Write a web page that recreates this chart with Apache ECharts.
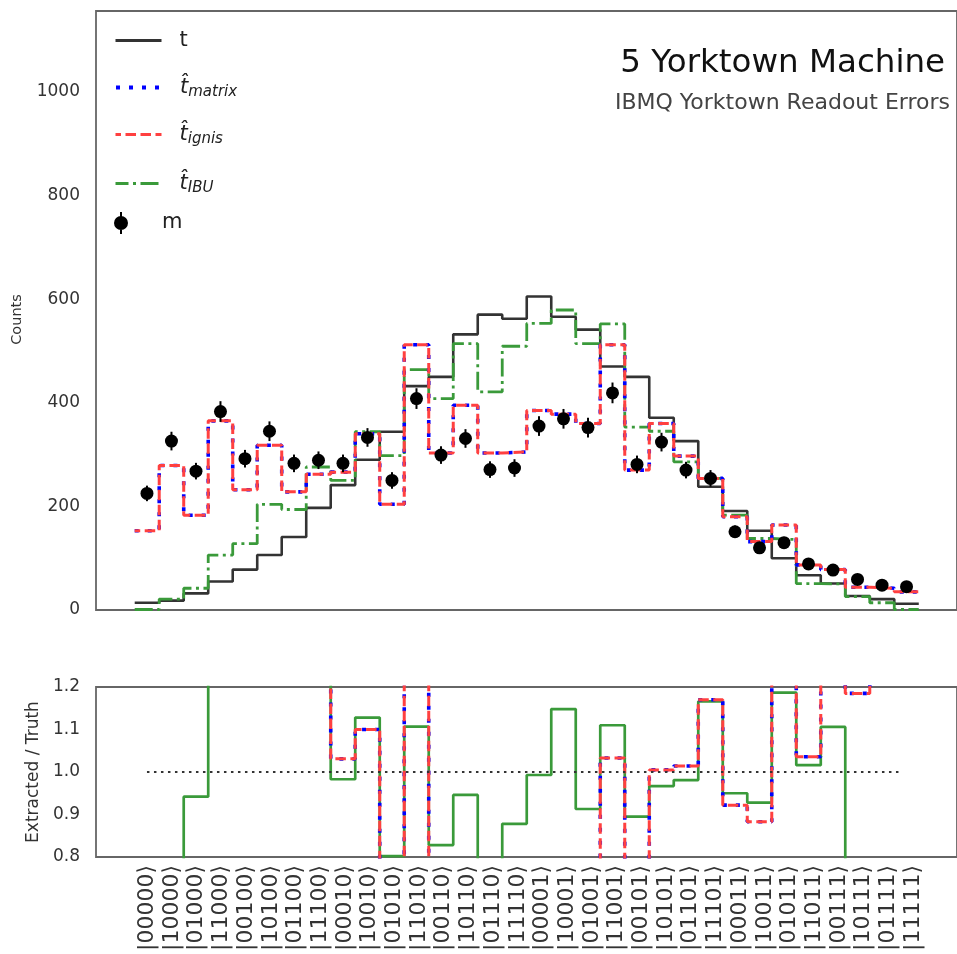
<!DOCTYPE html>
<html><head><meta charset="utf-8">
<script src="https://cdn.jsdelivr.net/npm/echarts@6/dist/echarts.min.js"></script>
<style>html,body{margin:0;padding:0;background:#fff}#c{width:957px;height:954px}</style>
</head><body><div id="c"></div><script>
// ---------------- data ----------------
const categories = ['|00000⟩','|10000⟩','|01000⟩','|11000⟩','|00100⟩','|10100⟩','|01100⟩','|11100⟩',
  '|00010⟩','|10010⟩','|01010⟩','|11010⟩','|00110⟩','|10110⟩','|01110⟩','|11110⟩',
  '|00001⟩','|10001⟩','|01001⟩','|11001⟩','|00101⟩','|10101⟩','|01101⟩','|11101⟩',
  '|00011⟩','|10011⟩','|01011⟩','|11011⟩','|00111⟩','|10111⟩','|01111⟩','|11111⟩'];
const truth   = [14,18,32,55,78,106,141,197,241,290,344,432,450,532,570,562,605,566,541,470,450,371,326,238,191,153,100,67,51,27,21,12];
const tMatrix = [153,279,183,365,232,318,228,262,266,340,204,512,303,395,303,305,385,378,360,512,270,360,297,254,180,132,164,87,78,44,42,35];
const tIgnis  = [153,279,183,365,232,318,228,262,266,340,204,512,303,395,303,305,385,378,360,512,270,360,297,254,180,132,164,87,78,44,42,35];
const tIBU    = [1,21,42,106,128,204,194,276,250,344,298,464,408,514,421,509,553,579,514,552,353,345,286,254,183,138,136,51,50,26,14,1];
const measured    = [225,326,268,383,292,345,283,289,283,333,250,408,299,331,271,274,355,369,352,419,281,324,270,254,151,120,130,89,77,59,48,45];
const measuredErr = [15,18,16,20,17,19,17,17,17,18,16,20,17,18,16,17,19,19,19,20,17,18,16,16,12,11,11,9,9,8,7,7];
const ratioMatrix = [10.9,15.5,5.7,6.6,3.0,3.0,1.6,1.33,1.031,1.10,0.59,1.35,0.67,0.74,0.53,0.54,0.64,0.67,0.67,1.033,0.6,1.005,1.014,1.17,0.922,0.883,1.64,1.036,1.5,1.185,2.0,2.9];
const ratioIgnis  = [10.9,15.5,5.7,6.6,3.0,3.0,1.6,1.33,1.031,1.10,0.59,1.35,0.67,0.74,0.53,0.54,0.64,0.67,0.67,1.033,0.6,1.005,1.014,1.17,0.922,0.883,1.64,1.036,1.5,1.185,2.0,2.9];
const ratioIBU    = [0.07,0.5,0.942,1.9,1.6,1.9,1.4,1.4,0.983,1.128,0.802,1.107,0.828,0.946,0.74,0.878,0.993,1.148,0.913,1.11,0.895,0.967,0.981,1.166,0.95,0.928,1.187,1.016,1.106,0.7,0.67,0.1];
const ratioRef = 1.0;

// ---------------- helpers ----------------
function stepPts(vals){ const out=[]; vals.forEach((v,i)=>{ out.push([i,v]); out.push([i+1,v]); }); return out; }
const FONT = 'DejaVu Sans';
const N = categories.length;
const XMIN = -1.58, XMAX = N + 1.56;
const cBlack='#333', cBlue='#0000ff', cRed='#ff4040', cGreen='#3a9a3a';
const dotted=[4,9], dashed=[10.5,4.5], dashdot=[18,4.5,3,4.5];

const legendDefs = [
  {name:'t', y:42}, {name:'matrix', y:89}, {name:'ignis', y:136}, {name:'IBU', y:185}, {name:'m', y:224}
];
const mIcon = 'path://M9,0h2v22h-2zM3,11a7,7 0 1,1 14,0a7,7 0 1,1 -14,0z';
const legends = legendDefs.map(d => ({
  data: [d.name === 'm' ? {name:'m', icon:mIcon} : d.name],
  left: 114, top: d.y - 12, orient:'vertical', padding:0,
  itemWidth: 46, itemHeight: d.name==='m' ? 22 : 14, selectedMode:false,
  itemStyle: d.name==='m' ? {color:'#000', opacity:1} : {opacity:0},
  lineStyle: {width: d.name==='matrix' ? 4 : 3},
  formatter: n => (n==='t' || n==='m') ? '{a|'+n+'}' : '{h|t\u0302}{s|'+n+'}',
  textStyle: {fontFamily:FONT, fontSize:20, color:'#222', padding:[0,0,0,13],
    rich: {
      a:{fontFamily:FONT, fontSize:21, lineHeight:24, color:'#222'},
      h:{fontFamily:FONT, fontSize:21, lineHeight:24, fontStyle:'italic', color:'#222'},
      s:{fontFamily:FONT, fontSize:15, lineHeight:20, fontStyle:'italic', color:'#222', verticalAlign:'bottom'}
    }}
}));

const chart = echarts.init(document.getElementById('c'), null, {renderer:'canvas'});
const frame = {show:true, borderColor:'#666', borderWidth:1.8, backgroundColor:'transparent'};
chart.setOption({
  animation:false,
  backgroundColor:'#fff',
  title:[
    {text:'5 Yorktown Machine', right:12, top:46, padding:0,
     textStyle:{fontFamily:FONT, fontSize:32.5, fontWeight:'normal', color:'#111', lineHeight:36}},
    {text:'IBMQ Yorktown Readout Errors', right:7, top:91, padding:0,
     textStyle:{fontFamily:FONT, fontSize:22, fontWeight:'normal', color:'#444', lineHeight:24}}
  ],
  legend: legends,
  grid:[
    Object.assign({left:96, top:11, width:868, height:599}, frame),
    Object.assign({left:96, top:687, width:868, height:170}, frame),
    {left:135, top:687, width:790.4, height:170, show:false}
  ],
  xAxis:[
    {gridIndex:0, type:'value', min:XMIN, max:XMAX, show:false},
    {gridIndex:1, type:'value', min:XMIN, max:XMAX, show:false},
    {gridIndex:2, type:'category', data:categories, boundaryGap:true,
     axisLine:{show:false}, axisTick:{show:false}, splitLine:{show:false},
     axisLabel:{rotate:90, interval:0, margin:19, fontFamily:FONT, fontSize:22, color:'#333'}}
  ],
  yAxis:[
    {gridIndex:0, type:'value', min:0, max:1156, interval:200,
     axisLine:{show:false}, axisTick:{show:false}, splitLine:{show:false},
     axisLabel:{showMaxLabel:false, margin:16, fontFamily:FONT, fontSize:17, color:'#333', formatter:v=>String(v)},
     name:'Counts', nameLocation:'middle', nameGap:71,
     nameTextStyle:{fontFamily:FONT, fontSize:14.5, color:'#333', padding:[0,18,0,0]}},
    {gridIndex:1, type:'value', min:0.8, max:1.2, interval:0.1,
     axisLine:{show:false}, axisTick:{show:false}, splitLine:{show:false},
     axisLabel:{margin:16, fontFamily:FONT, fontSize:17, color:'#333', formatter:v=>v.toFixed(1)},
     name:'Extracted / Truth', nameLocation:'middle', nameGap:54,
     nameTextStyle:{fontFamily:FONT, fontSize:17, color:'#333'}},
    {gridIndex:2, type:'value', show:false}
  ],
  series:[
    {name:'t', type:'line', xAxisIndex:0, yAxisIndex:0, data:stepPts(truth), symbol:'none',
     lineStyle:{color:cBlack, width:2.6}, itemStyle:{color:cBlack}, z:3},
    {name:'IBU', type:'line', xAxisIndex:0, yAxisIndex:0, data:stepPts(tIBU), symbol:'none',
     lineStyle:{color:cGreen, width:2.8, type:dashdot}, itemStyle:{color:cGreen}, z:4},
    {name:'matrix', type:'line', xAxisIndex:0, yAxisIndex:0, data:stepPts(tMatrix), symbol:'none',
     lineStyle:{color:cBlue, width:3.6, type:dotted}, itemStyle:{color:cBlue}, z:5},
    {name:'ignis', type:'line', xAxisIndex:0, yAxisIndex:0, data:stepPts(tIgnis), symbol:'none',
     lineStyle:{color:cRed, width:3, type:dashed, dashOffset:5}, itemStyle:{color:cRed}, z:6},
    {name:'m', type:'scatter', xAxisIndex:0, yAxisIndex:0, data:measured.map((v,i)=>[i+0.5,v]),
     symbol:'circle', symbolSize:13, itemStyle:{color:'#000', opacity:1}, z:8},
    {name:'merr', type:'custom', xAxisIndex:0, yAxisIndex:0,
     data:measured.map((v,i)=>[i+0.5,v,measuredErr[i]]),
     renderItem:(params, api)=>{
       const x=api.value(0), y=api.value(1), e=api.value(2);
       const p1=api.coord([x,y-e]), p2=api.coord([x,y+e]);
       return {type:'line', shape:{x1:p1[0],y1:p1[1],x2:p2[0],y2:p2[1]}, style:{stroke:'#000', lineWidth:2}};
     }, z:7},
    // ratio panel
    {name:'rIBU', type:'line', xAxisIndex:1, yAxisIndex:1, data:stepPts(ratioIBU), symbol:'none',
     lineStyle:{color:cGreen, width:2.7}, z:3},
    {name:'rMatrix', type:'line', xAxisIndex:1, yAxisIndex:1, data:stepPts(ratioMatrix), symbol:'none',
     lineStyle:{color:cBlue, width:3.6, type:dotted}, z:4},
    {name:'rIgnis', type:'line', xAxisIndex:1, yAxisIndex:1, data:stepPts(ratioIgnis), symbol:'none',
     lineStyle:{color:cRed, width:3, type:dashed, dashOffset:5}, z:5},
    {name:'ref', type:'line', xAxisIndex:1, yAxisIndex:1, data:[[0.5,ratioRef],[N-0.7,ratioRef]], symbol:'none',
     lineStyle:{color:'#333', width:2, type:[2.5,4.5]}, z:6}
  ]
});
</script></body></html>
